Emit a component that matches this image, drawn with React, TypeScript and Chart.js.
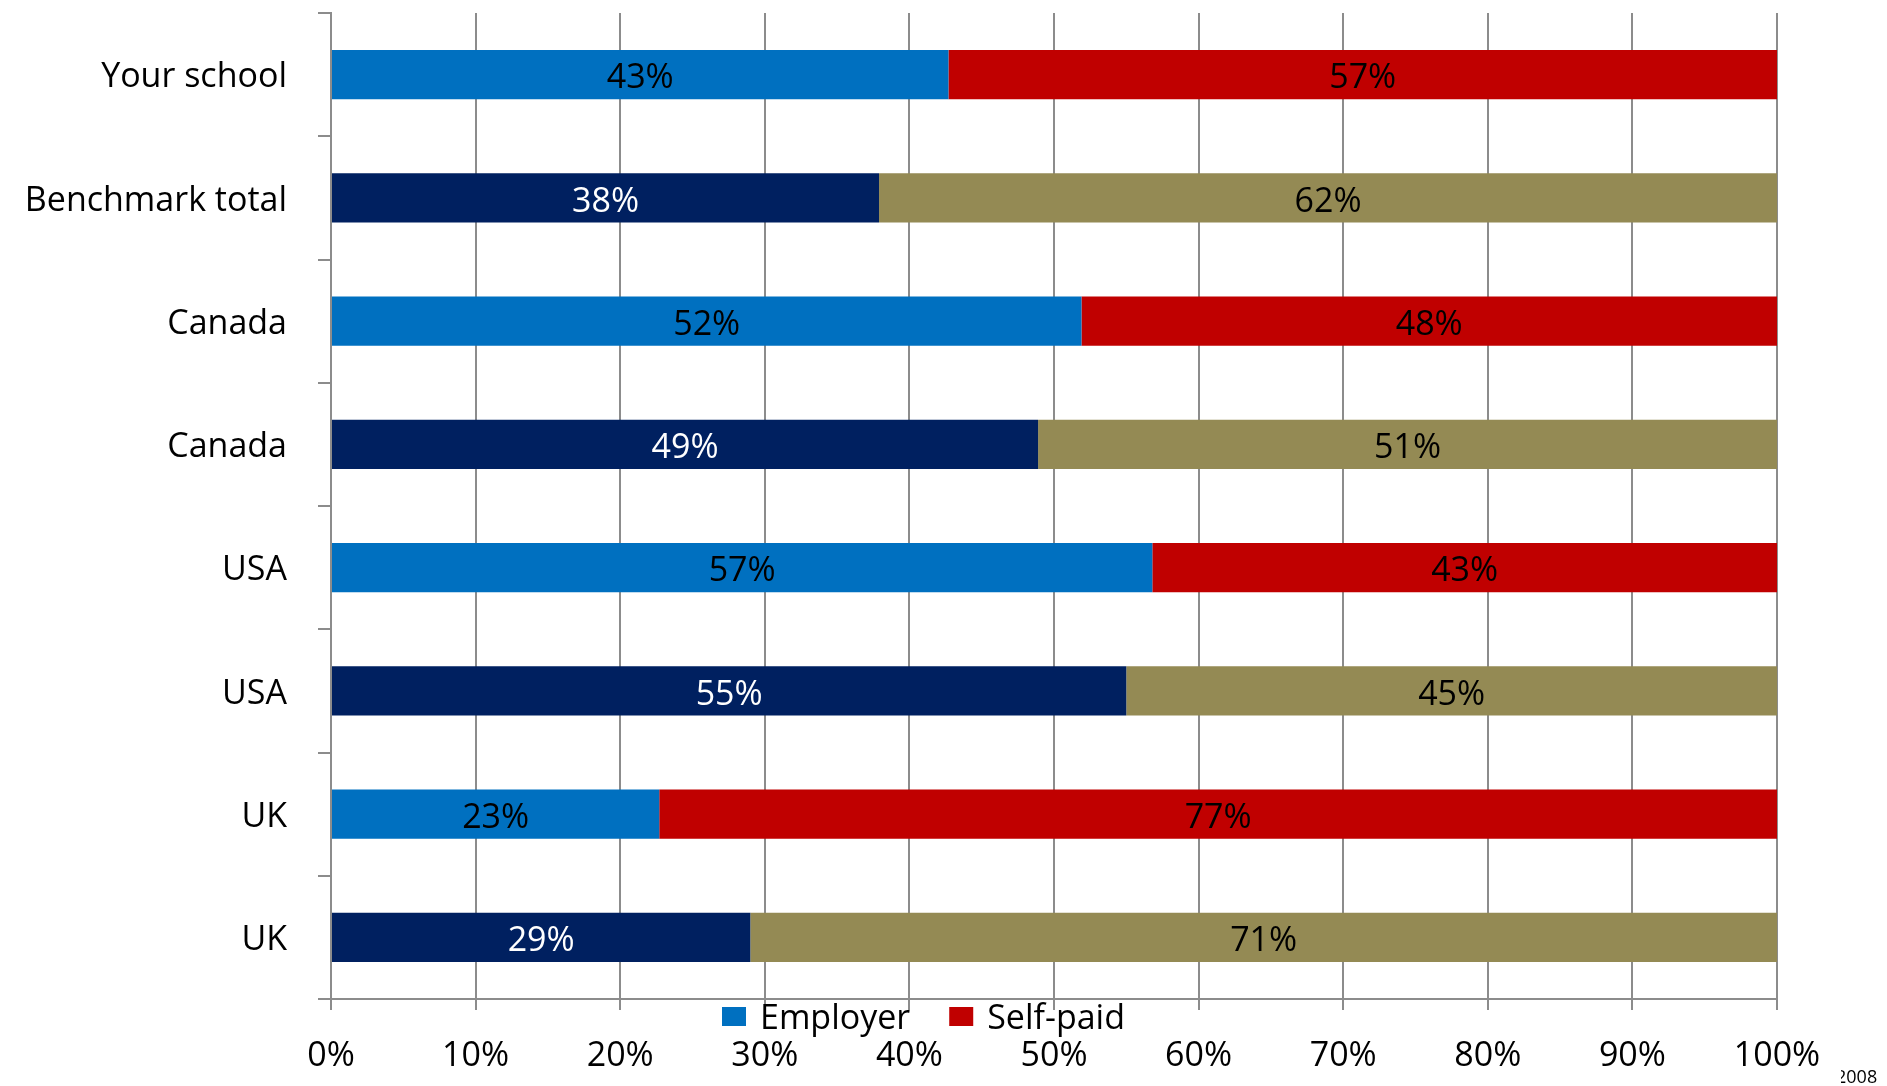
import React, { useEffect, useRef } from "react";
import { Chart, registerables } from "chart.js";

Chart.register(...registerables);

const categories = [
  "Your school",
  "Benchmark total",
  "Canada",
  "Canada",
  "USA",
  "USA",
  "UK",
  "UK",
];

const employerValues = [42.7, 37.9, 51.9, 48.9, 56.8, 55.0, 22.7, 29.0];
const selfPaidValues = [57.3, 62.1, 48.1, 51.1, 43.2, 45.0, 77.3, 71.0];

const employerColors = ["#0070C0", "#002060", "#0070C0", "#002060", "#0070C0", "#002060", "#0070C0", "#002060"];
const selfPaidColors = ["#C00000", "#948A54", "#C00000", "#948A54", "#C00000", "#948A54", "#C00000", "#948A54"];
const employerLabelColors = ["#000000", "#FFFFFF", "#000000", "#FFFFFF", "#000000", "#FFFFFF", "#000000", "#FFFFFF"];
const selfPaidLabelColors = ["#000000", "#000000", "#000000", "#000000", "#000000", "#000000", "#000000", "#000000"];

const xTicks = [0, 10, 20, 30, 40, 50, 60, 70, 80, 90, 100];
const seriesNames = ["Employer", "Self-paid"];
const footnote = "2008";

const FONT = '"Open Sans", "Liberation Sans", sans-serif';
const GRID = "#8C8C8C";

const dataLabelPlugin = {
  id: "dataLabels",
  afterDatasetsDraw(chart: any) {
    const ctx = chart.ctx;
    const labelColors = [employerLabelColors, selfPaidLabelColors];
    ctx.save();
    ctx.font = `34px ${FONT}`;
    ctx.textAlign = "center";
    ctx.textBaseline = "middle";
    chart.data.datasets.forEach((ds: any, di: number) => {
      const meta = chart.getDatasetMeta(di);
      meta.data.forEach((bar: any, i: number) => {
        const p = bar.getProps(["x", "y", "base"], true);
        ctx.fillStyle = labelColors[di][i];
        ctx.fillText(Math.round(ds.data[i]) + "%", (p.x + p.base) / 2, p.y + 4);
      });
    });
    ctx.restore();
  },
};

const legendPlugin = {
  id: "customLegend",
  afterDraw(chart: any) {
    const ctx = chart.ctx;
    const area = chart.chartArea;
    ctx.save();
    ctx.font = `34px ${FONT}`;
    ctx.textAlign = "left";
    ctx.textBaseline = "middle";
    let x = area.left + 391;
    const y = area.bottom + 8;
    const swatchColors = [employerColors[0], selfPaidColors[0]];
    seriesNames.forEach((name, i) => {
      ctx.fillStyle = swatchColors[i];
      ctx.fillRect(x, y, 24, 19);
      ctx.fillStyle = "#000000";
      ctx.fillText(name, x + 38, y + 12);
      const w = ctx.measureText(name).width;
      x += 38 + w + 39;
    });
    // footnote, partially clipped at the right edge as in the source
    ctx.beginPath();
    ctx.rect(1841, chart.height - 30, 60, 30);
    ctx.clip();
    ctx.font = `18px ${FONT}`;
    ctx.textAlign = "left";
    ctx.textBaseline = "alphabetic";
    ctx.fillText(footnote, 1836, chart.height - 3);
    ctx.restore();
  },
};

export default function App() {
  const ref = useRef<HTMLCanvasElement | null>(null);

  useEffect(() => {
    document.body.style.margin = "0";
    const canvas = ref.current;
    if (!canvas) return;
    const chart = new Chart(canvas, {
      type: "bar",
      data: {
        labels: categories,
        datasets: [
          {
            label: seriesNames[0],
            data: employerValues,
            backgroundColor: employerColors,
            borderWidth: 0,
            barPercentage: 0.4,
            categoryPercentage: 1,
          },
          {
            label: seriesNames[1],
            data: selfPaidValues,
            backgroundColor: selfPaidColors,
            borderWidth: 0,
            barPercentage: 0.4,
            categoryPercentage: 1,
          },
        ],
      },
      options: {
        indexAxis: "y",
        responsive: false,
        animation: false,
        devicePixelRatio: 1,
        layout: { padding: { top: 13, right: 110, bottom: 0, left: 0 } },
        plugins: {
          legend: { display: false },
          tooltip: { enabled: false },
        },
        scales: {
          x: {
            type: "linear",
            stacked: true,
            min: 0,
            max: 100,
            afterBuildTicks: (scale: any) => {
              scale.ticks = xTicks.map((v) => ({ value: v }));
            },
            afterFit: (scale: any) => {
              scale.height = 87;
              scale.paddingLeft = 0;
              scale.paddingRight = 0;
            },
            ticks: {
              callback: (v: any) => v + "%",
              color: "#000000",
              font: { family: FONT, size: 34 },
              padding: 26,
              maxRotation: 0,
            },
            grid: {
              color: GRID,
              lineWidth: 2,
              tickLength: 11,
              drawTicks: true,
            },
            border: { display: true, color: GRID, width: 2 },
          },
          y: {
            type: "category",
            stacked: true,
            offset: true,
            afterFit: (scale: any) => {
              scale.width = 331;
              scale.paddingTop = 0;
              scale.paddingBottom = 0;
            },
            ticks: {
              color: "#000000",
              font: { family: FONT, size: 34 },
              padding: 31,
              labelOffset: 3,
            },
            grid: {
              offset: true,
              drawOnChartArea: false,
              drawTicks: true,
              tickLength: 13,
              color: GRID,
              lineWidth: 2,
            },
            border: { display: true, color: GRID, width: 2 },
          },
        },
      } as any,
      plugins: [dataLabelPlugin, legendPlugin],
    });
    return () => chart.destroy();
  }, []);

  return (
    <div style={{ position: "absolute", left: 0, top: 0, width: 1887, height: 1086, background: "#ffffff" }}>
      <canvas ref={ref} width={1887} height={1086} style={{ display: "block" }} />
    </div>
  );
}
